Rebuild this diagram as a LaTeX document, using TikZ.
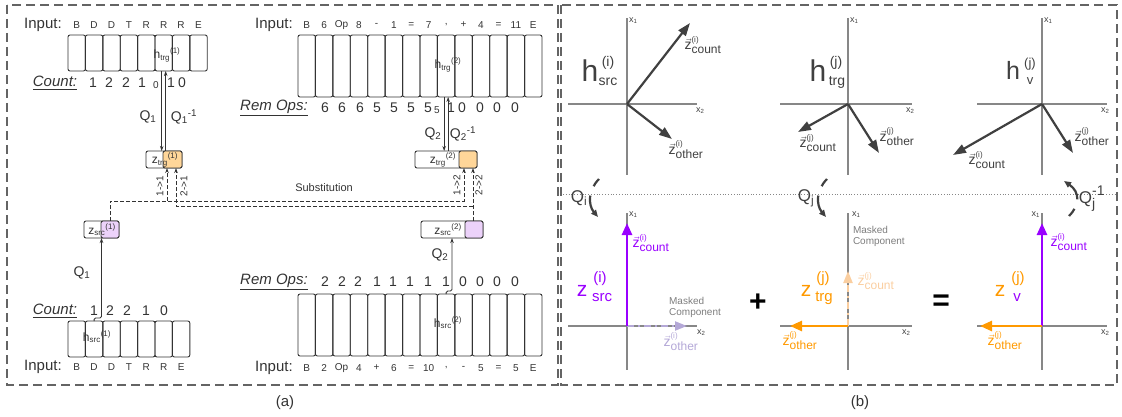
\documentclass[tikz,border=0pt]{standalone}
\usepackage{fontspec}
\setmainfont{Liberation Sans}
\usepackage{amsmath}
\usetikzlibrary{arrows.meta,calc}
\newcommand\fsz[1]{\fontsize{#1}{#1}\selectfont}
\definecolor{ink}{RGB}{51,51,51}
\definecolor{bord}{RGB}{100,100,100}
\definecolor{ofill}{RGB}{255,214,153}
\definecolor{pfill}{RGB}{236,210,250}
\definecolor{axc}{RGB}{135,135,135}
\definecolor{vecc}{RGB}{64,64,64}
\definecolor{purp}{RGB}{153,0,255}
\definecolor{lpurp}{RGB}{180,168,215}
\definecolor{orng}{RGB}{255,153,0}
\definecolor{lorng}{RGB}{250,206,160}
\definecolor{maskc}{RGB}{125,125,125}
\newcommand\vz[2]{$\vec{\text{\fsz{14}z}}^{\text{\fsz{8}#2}}_{\text{\fsz{12}#1}}$}
\begin{document}
\begin{tikzpicture}[x=1pt,y=-1pt,
  every node/.style={inner sep=0pt,outer sep=0pt,text=ink},
  border/.style={draw=bord,line width=1.1pt,dash pattern=on 9pt off 5pt},
  cell/.style={draw=ink,line width=0.9pt,rounded corners=2pt,minimum width=17.4pt},
  tok/.style={font=\fsz{10}},
  lab/.style={font=\fsz{15}},
  num/.style={font=\fsz{14}},
  qlab/.style={font=\fsz{14}},
  hlab/.style={font=\fsz{12}},
  zb/.style={draw=ink,line width=0.9pt,rounded corners=2pt,minimum height=17pt},
  ztx/.style={font=\fsz{12}},
  ln/.style={draw=ink,line width=0.9pt},
  arr/.style={-{Stealth[length=5pt,width=3.5pt]}},
  dsh/.style={draw=ink,line width=0.9pt,dash pattern=on 4pt off 2pt},
  rot/.style={rotate=90,font=\fsz{10}},
  ax/.style={draw=axc,line width=1.3pt},
  xl/.style={font=\fsz{9},text=vecc},
  vecar/.style={draw=vecc,line width=2.2pt,-{Triangle[length=13pt,width=9pt]}},
  vl/.style={font=\fsz{12},text=vecc},
  qarc/.style={draw=vecc,line width=2.2pt,-{Triangle[length=7pt,width=6pt]}},
  bigh/.style={font=\fsz{30},text=vecc,anchor=base},
  bigs/.style={font=\fsz{14},text=vecc,anchor=base},
  bigz/.style={font=\fsz{21},anchor=base},
  bzs/.style={font=\fsz{15},anchor=base}
]
\useasboundingbox (0,0) rectangle (1122,417);

% panel borders
\draw[border] (7,5) rectangle (558,385);
\draw[border] (561,5) rectangle (1117,385);
\node[font=\fsz{15}] (capa) at (285,403) {(a)};
\node[font=\fsz{15}] (capb) at (860,403) {(b)};

% ================= LEFT PANEL =================
% top-left array
\node[lab] (inA) at (43,25) {Input:};
\foreach \t [count=\i] in {B,D,D,T,R,R,R,E}
  \node[tok] (tokA\i) at ({68+(\i-0.5)*17.4},25) {\t};
\foreach \i in {1,...,8}
  \node[cell,minimum height=36pt] (cellA\i) at ({68+(\i-0.5)*17.4},53) {};
\node[hlab] (hA) at (167,55) {h\textsubscript{trg}\textsuperscript{(1)}};
\node[lab] (cntA) at (55,83) {\underline{\textit{Count:}}};
\foreach \x/\t [count=\k] in {93/1,109/2,126/2,142/1,171/1,182/0}
  \node[num] (nA\k) at (\x,83) {\t};
\node[font=\fsz{10}] (nA0) at (156,85) {0};

% top-right array
\node[lab] (inB) at (274,25) {Input:};
\foreach \t [count=\i] in {B,6,Op,8,-,1,=,7,{,},+,4,=,11,E}
  \node[tok] (tokB\i) at ({298+(\i-0.5)*17.43},25) {\t};
\foreach \i in {1,...,14}
  \node[cell,minimum height=62pt,minimum width=17.43pt] (cellB\i) at ({298+(\i-0.5)*17.43},66) {};
\node[hlab] (hB) at (448,65) {h\textsubscript{trg}\textsuperscript{(2)}};
\node[lab] (remB) at (274,108) {\underline{\textit{Rem Ops:}}};
\foreach \x/\t [count=\k] in {325/6,342/6,360/6,377/5,394/5,411/5,428/5,451/1,462/0,480/0,497/0,515/0}
  \node[num] (nB\k) at (\x,108) {\t};
\node[font=\fsz{10}] (nB0) at (437,110) {5};

% z_trg boxes
\node[zb,minimum width=36pt] (ztA) at (164,159.5) {};
\node[zb,minimum width=19pt,fill=ofill] (ztAc) at (172.5,159.5) {};
\node[ztx] (ztAt) at (165,160) {z\textsubscript{trg}\textsuperscript{(1)}};
\node[zb,minimum width=62pt] (ztB) at (446,159.5) {};
\node[zb,minimum width=18pt,fill=ofill] (ztBc) at (468,159.5) {};
\node[ztx] (ztBt) at (443,160) {z\textsubscript{trg}\textsuperscript{(2)}};

% z_src boxes
\node[zb,minimum width=35pt] (zsA) at (101.5,229.5) {};
\node[zb,minimum width=18pt,fill=pfill] (zsAc) at (110,229.5) {};
\node[ztx] (zsAt) at (102,230) {z\textsubscript{src}\textsuperscript{(1)}};
\node[zb,minimum width=62pt] (zsB) at (452,229.5) {};
\node[zb,minimum width=18pt,fill=pfill] (zsBc) at (474,229.5) {};
\node[ztx] (zsBt) at (448,230) {z\textsubscript{src}\textsuperscript{(2)}};

% Q double lines
\draw[ln,arr] ($(cellA6.south)+(-2,0)$) -- ($(cellA6.south |- ztA.north)+(-2,0)$);
\draw[ln,arr] ($(cellA6.south |- ztA.north)+(2,0)$) -- ($(cellA6.south)+(2,0)$);
\node[qlab] (q1a) at (148,117) {Q\textsubscript{1}};
\node[qlab] (q1b) at (184,117) {Q\textsubscript{1}\textsuperscript{-1}};
\draw[ln,arr] ($(cellB9.south)+(-2,0)$) -- ($(cellB9.south |- ztB.north)+(-2,0)$);
\draw[ln,arr] ($(cellB9.south |- ztB.north)+(2,0)$) -- ($(cellB9.south)+(2,0)$);
\node[qlab] (q2a) at (433,134) {Q\textsubscript{2}};
\node[qlab] (q2b) at (463,134) {Q\textsubscript{2}\textsuperscript{-1}};

% substitution connectors
\coordinate (e11) at ($(ztAc.south)+(-5.5,0)$);
\coordinate (e21) at ($(ztAc.south)+(3.5,0)$);
\coordinate (e12) at ($(ztBc.south)+(-4,0)$);
\coordinate (e22) at ($(ztBc.south)+(5,0)$);
\coordinate (busA) at (110,201);
\coordinate (busB) at (473,206);
\draw[dsh,arr] (zsAc.north) -- (busA) -| (e12);
\draw[dsh,arr] (e11 |- busA) -- (e11);
\draw[dsh,arr] (e22 |- zsBc.north) -- (e22);
\draw[dsh,arr] (busB) -| (e21);
\node[rot] (l11) at (160,186) {1->1};
\node[rot] (l21) at (184,186) {2->1};
\node[rot] (l12) at (457,185) {1->2};
\node[rot] (l22) at (479,185) {2->2};
\node[font=\fsz{11}] (subst) at (324,188) {Substitution};

% bottom-left array
\node[lab] (cntC) at (55,311) {\underline{\textit{Count:}}};
\foreach \x/\t [count=\k] in {94/1,110/2,127/2,146/1,164/0}
  \node[num] (nC\k) at (\x,311) {\t};
\foreach \i in {1,...,7}
  \node[cell,minimum height=36pt] (cellC\i) at ({68+(\i-0.5)*17.4},339) {};
\node[hlab] (hC) at (97,337) {h\textsubscript{src}\textsuperscript{(1)}};
\node[lab] (inC) at (43,367) {Input:};
\foreach \t [count=\i] in {B,D,D,T,R,R,E}
  \node[tok] (tokC\i) at ({68+(\i-0.5)*17.4},367) {\t};
\draw[ln,arr,rounded corners=1.5pt] (cellC2.north) -- ++(0,-3) -| (zsA.south);
\node[qlab] (q1c) at (82,273) {Q\textsubscript{1}};

% bottom-right array
\node[lab] (remD) at (274,282) {\underline{\textit{Rem Ops:}}};
\foreach \x/\t [count=\k] in {325/2,342/2,358/2,377/1,393/1,410/1,428/1,446/1,463/0,480/0,497/0,515/0}
  \node[num] (nD\k) at (\x,282) {\t};
\foreach \i in {1,...,14}
  \node[cell,minimum height=62pt,minimum width=17.43pt] (cellD\i) at ({298+(\i-0.5)*17.43},325) {};
\node[hlab] (hD) at (448,323) {h\textsubscript{src}\textsuperscript{(2)}};
\node[lab] (inD) at (274,368) {Input:};
\foreach \t [count=\i] in {B,2,Op,4,+,6,=,10,{,},-,5,=,5,E}
  \node[tok] (tokD\i) at ({298+(\i-0.5)*17.43},368) {\t};
\draw[ln,arr,rounded corners=1.5pt] (cellD9.north) -- ++(0,-3) -| (zsB.south);
\node[qlab] (q2c) at (440,255) {Q\textsubscript{2}};

% ================= RIGHT PANEL =================
\coordinate (O1) at (627,104); \coordinate (O2) at (848,104); \coordinate (O3) at (1042,104);
\coordinate (P1) at (627,326); \coordinate (P2) at (848,326); \coordinate (P3) at (1042,326);

% dotted separator
\draw[axc,line width=0.8pt,dotted] (563,194) -- (1116,194);

% top axes
\draw[ax] (568,104) -- (697,104); \draw[ax] (627,18) -- (627,175);
\draw[ax] (780,104) -- (912,104); \draw[ax] (848,18) -- (848,175);
\draw[ax] (977,104) -- (1107,104); \draw[ax] (1042,18) -- (1042,175);
\node[xl,anchor=west] (x1a) at (629,21) {x\textsubscript{1}};
\node[xl,anchor=west] (x1b) at (850,21) {x\textsubscript{1}};
\node[xl,anchor=west] (x1c) at (1044,21) {x\textsubscript{1}};
\node[xl,anchor=west] (x2a) at (696,111) {x\textsubscript{2}};
\node[xl,anchor=west] (x2b) at (906,111) {x\textsubscript{2}};
\node[xl,anchor=west] (x2c) at (1101,111) {x\textsubscript{2}};

% top vectors
\draw[vecar] (O1) -- (690,23);
\draw[vecar] (O1) -- (672,139);
\draw[vecar] (O2) -- (798,132);
\draw[vecar] (O2) -- (879,153);
\draw[vecar] (O3) -- (953,155);
\draw[vecar] (O3) -- (1073,153);
\node[vl] (v1) at (703,45) {\vz{count}{(i)}};
\node[vl] (v2) at (686,150) {\vz{other}{(i)}};
\node[vl] (v3) at (818,143) {\vz{count}{(j)}};
\node[vl] (v4) at (897,137) {\vz{other}{(j)}};
\node[vl] (v5) at (987,160) {\vz{count}{(i)}};
\node[vl] (v6) at (1092,137) {\vz{other}{(j)}};

% big h labels
\node[bigh] (hs) at (590,82) {h};
\node[bigs] (hs1) at (608,67) {(i)};
\node[bigs] (hs2) at (608,86) {src};
\node[bigh] (ht) at (818,82) {h};
\node[bigs] (ht1) at (836,67) {(j)};
\node[bigs] (ht2) at (837,86) {trg};
\node[bigh,font=\fsz{25}] (hv) at (1013,80) {h};
\node[bigs,font=\fsz{13}] (hv1) at (1030,68) {(j)};
\node[bigs,font=\fsz{13}] (hv2) at (1030,85) {v};

% rotation arcs
\draw[qarc,dash pattern=on 9pt off 10pt on 40pt] (599,179) .. controls (588,190) and (588,205) .. (598,217);
\node[font=\fsz{17},text=vecc] (qi) at (579,198) {Q\textsubscript{i}};
\draw[qarc,dash pattern=on 9pt off 10pt on 40pt] (827,179) .. controls (816,190) and (816,205) .. (826,217);
\node[font=\fsz{17},text=vecc] (qj) at (806,198) {Q\textsubscript{j}};
\draw[qarc,dash pattern=on 9pt off 10pt on 40pt] (1069,216) .. controls (1080,205) and (1080,192) .. (1064,181);
\node[font=\fsz{17},text=vecc] (qji) at (1092,199) {$\text{Q}^{\text{\fsz{14}-1}}_{\text{\fsz{14}j}}$};

% bottom axes
\draw[ax] (568,326) -- (697,326); \draw[ax] (627,213) -- (627,370);
\draw[ax] (780,326) -- (912,326); \draw[ax] (848,213) -- (848,370);
\draw[ax] (977,326) -- (1107,326); \draw[ax] (1042,213) -- (1042,370);
\node[xl,anchor=west] (x1d) at (629,215) {x\textsubscript{1}};
\node[xl,anchor=west] (x1e) at (852,215) {x\textsubscript{1}};
\node[xl,anchor=east] (x1f) at (1040,215) {x\textsubscript{1}};
\node[xl,anchor=west] (x2d) at (697,333) {x\textsubscript{2}};
\node[xl,anchor=west] (x2e) at (902,333) {x\textsubscript{2}};
\node[xl,anchor=west] (x2f) at (1101,333) {x\textsubscript{2}};

% bottom vectors
\draw[draw=lpurp,line width=2.2pt,dash pattern=on 7pt off 4pt on 2pt off 4pt,-{Triangle[length=12pt,width=9pt]}] (P1) -- (687,326);
\draw[draw=purp,line width=2.6pt,-{Triangle[length=12pt,width=10pt]}] (P1) -- (627,223);
\draw[draw=lorng,line width=2.2pt,dash pattern=on 7pt off 4pt on 2pt off 4pt,-{Triangle[length=12pt,width=9pt]}] (P2) -- (848,271);
\draw[draw=orng,line width=2.6pt,-{Triangle[length=12pt,width=10pt]}] (P2) -- (790,326);
\draw[draw=purp,line width=2.6pt,-{Triangle[length=12pt,width=10pt]}] (P3) -- (1042,223);
\draw[draw=orng,line width=2.6pt,-{Triangle[length=12pt,width=10pt]}] (P3) -- (980,326);

\node[vl,text=purp] (w1) at (651,243) {\vz{count}{(i)}};
\node[vl,text=lpurp] (w2) at (681,342) {\vz{other}{(i)}};
\node[vl,text=orng] (w3) at (800,341) {\vz{other}{(j)}};
\node[vl,text=lorng] (w4) at (876,281) {\vz{count}{(j)}};
\node[vl,text=purp] (w5) at (1069,242) {\vz{count}{(i)}};
\node[vl,text=orng] (w6) at (1005,341) {\vz{other}{(j)}};
\node[font=\fsz{10},text=maskc,align=left] (m1) at (695,307) {Masked\\[1pt]Component};
\node[font=\fsz{10},text=maskc,align=left,anchor=west] (m2) at (853,236) {Masked\\[1pt]Component};

% big z labels
\node[bigz,text=purp] (zs) at (582,296) {z};
\node[bzs,text=purp] (zs1) at (600,282) {(i)};
\node[bzs,text=purp] (zs2) at (602,301) {src};
\node[bigz,text=orng] (zt) at (806,296) {z};
\node[bzs,text=orng] (zt1) at (823,282) {(j)};
\node[bzs,text=orng] (zt2) at (824,301) {trg};
\node[bigz,text=orng] (zv) at (1000,296) {z};
\node[bzs,text=orng] (zv1) at (1018,282) {(j)};
\node[bzs,text=purp] (zv2) at (1017,301) {v};
\node[font=\fsz{30}\bfseries,text=black] (plus) at (758,303) {+};
\node[font=\fsz{30}\bfseries,text=black] (eq) at (941,303) {=};
\end{tikzpicture}
\end{document}
